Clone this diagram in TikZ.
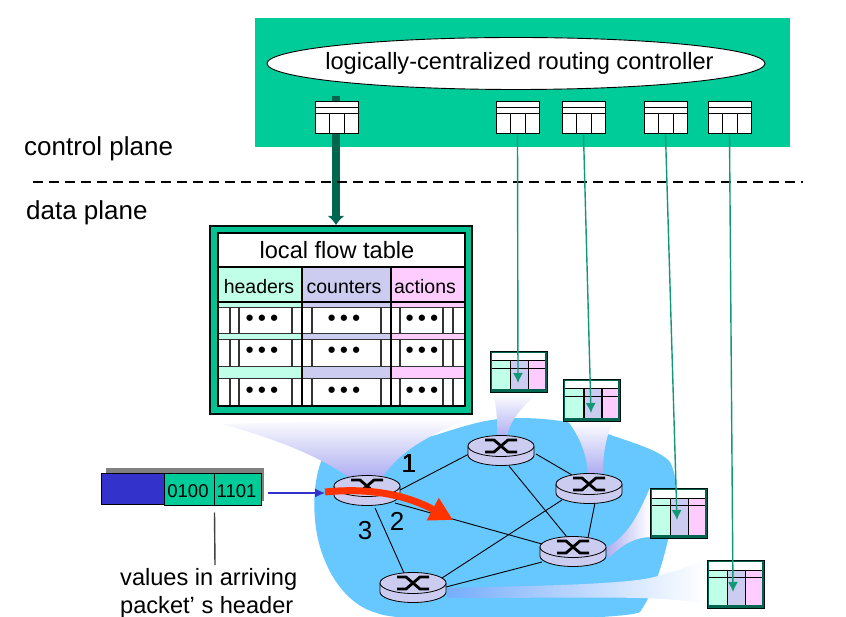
\documentclass[tikz,border=0pt]{standalone}
\usepackage{fontspec}
\setmainfont{Liberation Sans}
\usetikzlibrary{arrows.meta,shapes.geometric}
\definecolor{ctrlgreen}{RGB}{0,204,153}
\definecolor{darkgreen}{RGB}{0,102,80}
\definecolor{linkgreen}{RGB}{17,153,119}
\definecolor{cloudblue}{RGB}{102,200,255}
\definecolor{mint}{RGB}{192,255,232}
\definecolor{lav}{RGB}{204,204,240}
\definecolor{pinkish}{RGB}{255,204,255}
\definecolor{pktblue}{RGB}{51,51,204}
\definecolor{flowred}{RGB}{255,51,0}
\tikzset{
  label/.style={font=\fontsize{26}{28}\selectfont,inner sep=0pt},
  ctrltable/.style={draw,fill=white,line width=1pt,minimum width=43pt,minimum height=32pt,inner sep=0pt},
  linkline/.style={line width=0.9pt},
  thinarrow/.style={linkgreen,line width=1.4pt,-{Latex[length=10pt,width=10pt]}},
}
% one flow table hanging off a router
\newcommand{\flowtable}[4]{
\node[draw=black!85!darkgreen,fill=darkgreen,line width=1.4pt,minimum width=57pt,minimum height=#4pt,inner sep=0pt,anchor=north west] (#1) at (#2,#3) {};
\fill[white] (#2+2,#3+2) rectangle (#2+55,#3+10);
\fill[mint] (#2+2,#3+10) rectangle (#2+21,#3+#4-3);
\fill[lav] (#2+21,#3+10) rectangle (#2+39,#3+#4-3);
\fill[pinkish] (#2+39,#3+10) rectangle (#2+55,#3+#4-3);
\draw[line width=1pt] (#2+2,#3+10) -- (#2+55,#3+10);
\draw[line width=0.8pt] (#2+2,#3+17) -- (#2+55,#3+17);
\draw[line width=1.5pt] (#2+21,#3+10) -- (#2+21,#3+#4-3);
\draw[line width=1.5pt] (#2+39,#3+10) -- (#2+39,#3+#4-3);
}
% router: disc with crossed arrows
\newcommand{\router}[1]{
\begin{scope}[shift={(#1)}]
\draw[fill=lav,line width=0.8pt] (-33,0) -- (-33,9) arc[start angle=180,end angle=0,x radius=33,y radius=10.5] -- (33,0);
\draw[fill=lav,line width=0.8pt] (0,0) ellipse[x radius=33,y radius=10.5];
\draw[line width=2.8pt] (-16,-6) -- (-7,-6) -- (7,6) -- (16,6);
\draw[line width=2.8pt] (-16,6) -- (-7,6) -- (7,-6) -- (16,-6);
\end{scope}
}
\begin{document}
\begin{tikzpicture}[x=1pt,y=-1pt]
\useasboundingbox (0,0) rectangle (846,617);
\clip (0,0) rectangle (846,617);
% controller
\fill[ctrlgreen] (255,18) rectangle (790,147);
\node[draw,fill=white,ellipse,line width=0.9pt,minimum width=498pt,minimum height=52pt,inner sep=0pt] (ctrl) at (516,63.5) {};
\node[font=\fontsize{23.6}{26}\selectfont,inner sep=0pt] (ctrltext) at (519.5,63.5) {logically-centralized routing controller};
\draw[darkgreen,line width=8pt,-{Latex[length=9pt,width=17pt]}] (336,96) -- (336,225);
\foreach \nm/\x in {ct1/336.5,ct2/517.5,ct3/583.5,ct4/665.5,ct5/729.5}{
\node[ctrltable] (\nm) at (\x,118) {};
\draw[line width=1pt] ([yshift=-6pt]\nm.north west) -- ([yshift=-6pt]\nm.north east);
\draw[line width=1pt] ([yshift=-12pt]\nm.north west) -- ([yshift=-12pt]\nm.north east);
\draw[line width=1pt] ([xshift=15pt,yshift=-12pt]\nm.north west) -- ([xshift=15pt]\nm.south west);
\draw[line width=1pt] ([xshift=30pt,yshift=-12pt]\nm.north west) -- ([xshift=30pt]\nm.south west);
}
% planes
\node[label,anchor=west] (cplane) at (24,149) {control plane};
\node[label,anchor=west] (dplane) at (26,213) {data plane};
\coordinate (dl) at (33,182);
\coordinate (dr) at (803,182);
\draw[dashed,line width=1.6pt,dash pattern=on 10pt off 6pt] (dl) -- (dr);
% network cloud
\fill[cloudblue] (436,435) .. controls (470,424) and (490,418) .. (517,418)
 .. controls (540,418) and (555,420) .. (567,422) -- (608,434)
 .. controls (630,442) and (660,450) .. (670,462)
 .. controls (680,480) and (675,510) .. (668,540)
 .. controls (662,565) and (655,590) .. (640,612)
 .. controls (630,620) and (400,625) .. (377,613)
 .. controls (350,606) and (330,580) .. (320,547)
 .. controls (312,520) and (312,480) .. (323,457)
 .. controls (340,445) and (400,445) .. (436,435) -- cycle;
% beams up to the tables
\shade[top color=white,bottom color=lav!85!blue] (222,424) -- (470,418) .. controls (430,435) and (400,450) .. (382,478) -- (350,478) .. controls (310,450) and (260,435) .. (222,424) -- cycle;
\shade[top color=white,bottom color=lav!85!blue] (493,393) -- (537,393) .. controls (520,410) and (510,420) .. (507,437) -- (497,437) .. controls (498,420) and (496,405) .. (493,393) -- cycle;
\shade[top color=white,bottom color=lav!85!blue] (568,421) -- (613,421) .. controls (605,440) and (603,455) .. (603,473) -- (588,473) .. controls (586,450) and (578,435) .. (568,421) -- cycle;
\shade[left color=lav!85!blue,right color=white] (606,548) .. controls (630,535) and (640,510) .. (650,488) -- (650,537) .. controls (630,538) and (620,548) .. (608,558) -- cycle;
\shade[left color=blue!20!cloudblue!70!lav,right color=white] (447,588) .. controls (520,586) and (640,585) .. (660,575) .. controls (680,570) and (695,565) .. (706,555) -- (706,604) .. controls (660,595) and (600,598) .. (447,598) -- cycle;
% local flow table
\node[draw=black!85!darkgreen,fill=ctrlgreen!90!darkgreen,line width=1.8pt,minimum width=262pt,minimum height=188pt,inner sep=0pt] (flow) at (341,320) {};
\fill[white] (218,233) rectangle (465,267);
\fill[mint] (218,267) rectangle (302,378);
\fill[lav] (302,267) rectangle (391,378);
\fill[pinkish] (391,267) rectangle (465,378);
\fill[white] (218,307) rectangle (465,333);
\fill[white] (218,339) rectangle (465,366);
\fill[white] (218,378) rectangle (465,405);
\foreach \ya/\yb in {307/333,339/366,378/405}{
\foreach \x in {230,239,292,312,381,400,443,453}
\draw[black!80,line width=1.1pt] (\x,\ya) -- (\x,\yb);
\draw[black!80,line width=0.7pt] (218,\ya) -- (465,\ya);
\draw[black!80,line width=0.7pt] (218,\yb) -- (465,\yb);
}
\draw[line width=1.5pt] (218,267) -- (465,267);
\draw[line width=1.7pt] (218,302) -- (465,302);
\draw[line width=1.7pt] (302,267) -- (302,405);
\draw[line width=1.7pt] (391,267) -- (391,405);
\draw[line width=2.2pt] (218,233) rectangle (465,406);
\node[font=\fontsize{23.6}{26}\selectfont,inner sep=0pt] (ftitle) at (337,250) {local flow table};
\node[font=\fontsize{19.5}{22}\selectfont,inner sep=0pt] (fh) at (259,287) {headers};
\node[font=\fontsize{19.5}{22}\selectfont,inner sep=0pt] (fc) at (344,287) {counters};
\node[font=\fontsize{19.5}{22}\selectfont,inner sep=0pt] (fa) at (425,287) {actions};
\foreach \y/\k in {320/a,352/b,392/c}{
\foreach \x/\c in {262/h,344/m,422/r}
\node[font=\fontsize{22}{24}\bfseries\selectfont,inner sep=0pt] (dots\k\c) at (\x,\y) {\textbullet\hspace{4.5pt}\textbullet\hspace{4.5pt}\textbullet};
}
% routers and links
\coordinate (r1) at (367,486);
\coordinate (r2) at (501,446);
\coordinate (r3) at (589,484);
\coordinate (r4) at (573,547);
\coordinate (r5) at (413,583);
\foreach \a/\ax/\ay/\b/\bx/\by in {r1/33/4/r2/-32/8,r1/28/17/r4/-31/-3,r1/8/22/r5/-9/-10,r2/35/8/r3/-17/-9,r2/8/20/r4/-6/-10,r3/6/19/r4/15/-9,r3/-27/16/r5/29/-5,r4/-31/15/r5/33/4}
\draw[linkline] ([shift={(\ax,\ay)}]\a) -- ([shift={(\bx,\by)}]\b);
\foreach \r in {r1,r2,r3,r4,r5}
\router{\r}
\node[label] (n1) at (409,464) {1};
\node[label] (n2) at (397,521) {2};
\node[label] (n3) at (365,531) {3};
% tables at the routers
\flowtable{t1}{489.5}{351}{41}
\flowtable{t2}{563}{379}{42}
\flowtable{t3}{649.5}{488}{50}
\flowtable{t4}{706.5}{560}{48}
\coordinate (e1) at (518,383);
\coordinate (e2) at (591,413);
\coordinate (e3) at (677,520);
\coordinate (e4) at (733,592);
\draw[thinarrow] (ct2.south) -- (e1);
\draw[thinarrow] (ct3.south) -- (e2);
\draw[thinarrow] (ct4.south) -- (e3);
\draw[thinarrow] (ct5.south) -- (e4);
% packet
\fill[black!50] (106,468) rectangle (264,501);
\node[draw,fill=pktblue,line width=1pt,minimum width=63pt,minimum height=31pt,inner sep=0pt] (pblue) at (132.5,488.5) {};
\node[draw,fill=ctrlgreen,line width=1pt,minimum width=50pt,minimum height=32pt,inner sep=0pt] (p1) at (189,489) {};
\node[draw,fill=ctrlgreen,line width=1pt,minimum width=47pt,minimum height=32pt,inner sep=0pt] (p2) at (237.5,489) {};
\node[font=\fontsize{18.5}{22}\selectfont,inner sep=0pt] at (188,491) {0100};
\node[font=\fontsize{18.5}{22}\selectfont,inner sep=0pt] at (236.5,491) {1101};
\coordinate (pout) at (268,493);
\coordinate (pin) at (325,493);
\draw[pktblue,line width=1.2pt,-{Latex[length=10pt,width=9pt]}] (pout) -- (pin);
\draw[flowred,line width=7pt,-{Triangle[length=23pt,width=24pt]}] (325,492) .. controls (375,487) and (410,497) .. (453,520);
% caption
\node[font=\fontsize{23.6}{28}\selectfont,align=left,inner sep=0pt,anchor=north west] (cap) at (120,568) {values in arriving\\packet’ s header};
\coordinate (capup) at (215,565);
\draw[black!75,line width=1.4pt] (p1.south east) ++(0,7) -- (capup);
\end{tikzpicture}
\end{document}
